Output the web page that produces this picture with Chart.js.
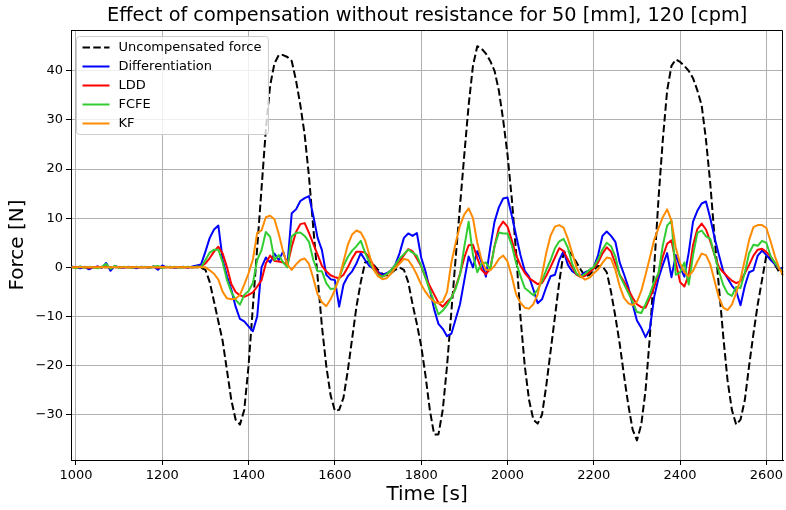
<!DOCTYPE html>
<html>
<head>
<meta charset="utf-8">
<script src="https://cdn.jsdelivr.net/npm/chart.js@4.4.1/dist/chart.umd.min.js"></script>
<style>
  body { margin: 0; background: #fff; }
  canvas { display: block; }
</style>
</head>
<body>
<canvas id="grafico-fuerza" width="786" height="510"></canvas>
<script>
// Tiempos de muestreo [s]
const tiempos = [
  990, 1000, 1010, 1020, 1030, 1040, 1050, 1060, 1070, 1080,
  1090, 1100, 1110, 1120, 1130, 1140, 1150, 1160, 1170, 1180,
  1190, 1200, 1210, 1220, 1230, 1240, 1250, 1260, 1270, 1280,
  1290, 1300, 1310, 1320, 1330, 1340, 1350, 1360, 1370, 1380,
  1390, 1400, 1410, 1420, 1430, 1440, 1450, 1460, 1470, 1480,
  1490, 1500, 1510, 1520, 1530, 1540, 1550, 1560, 1570, 1580,
  1590, 1600, 1610, 1620, 1630, 1640, 1650, 1660, 1670, 1680,
  1690, 1700, 1710, 1720, 1730, 1740, 1750, 1760, 1770, 1780,
  1790, 1800, 1810, 1820, 1830, 1840, 1850, 1860, 1870, 1880,
  1890, 1900, 1910, 1920, 1930, 1940, 1950, 1960, 1970, 1980,
  1990, 2000, 2010, 2020, 2030, 2040, 2050, 2060, 2070, 2080,
  2090, 2100, 2110, 2120, 2130, 2140, 2150, 2160, 2170, 2180,
  2190, 2200, 2210, 2220, 2230, 2240, 2250, 2260, 2270, 2280,
  2290, 2300, 2310, 2320, 2330, 2340, 2350, 2360, 2370, 2380,
  2390, 2400, 2410, 2420, 2430, 2440, 2450, 2460, 2470, 2480,
  2490, 2500, 2510, 2520, 2530, 2540, 2550, 2560, 2570, 2580,
  2590, 2600, 2610, 2620, 2630, 2640
];

// Fuerza sin compensar [N]
const fuerzaSinCompensar = [
  0, 0, 0, 0, 0, 0, 0, 0, 0, 0,
  0, 0, 0, 0, 0, 0, 0, 0, 0, 0,
  0, 0, 0, 0, 0, 0, 0, 0, 0, 0,
  -0.1, -0.5, -3, -7, -11, -15, -21, -27, -31, -32,
  -29, -20, -8, 4, 16, 28, 37, 41.5, 43.2, 43.2,
  42.8, 42, 38, 33, 27, 18.5, 8, -2, -12, -20,
  -26, -29.2, -29, -26.5, -21, -14.5, -8, -3, 1, 1.2,
  0.5, -0.5, -1.3, -1.6, -1.2, -0.5, 0, -0.5, -3, -7.5,
  -11.5, -16, -22, -29, -34, -34, -29, -20, -9, 2,
  12.5, 23, 33, 41, 45, 44.5, 43.5, 42, 40, 36,
  30, 23, 14, 3, -10, -20, -27, -31, -31.8, -30,
  -24, -17, -10, -3, 3, 3.5, 2.5, 1, -0.5, -1.8,
  -1.5, -0.5, 0.3, 0.2, -1, -5, -10, -15.5, -22, -28,
  -33, -35.2, -32, -25, -14, 0, 14, 26, 36, 41,
  42.3, 41.8, 41, 40, 38.5, 36, 33, 26, 17, 6,
  -4, -14, -23, -29, -32, -31, -27, -20, -13.5, -7.5,
  -2.5, 2.5, 2, 0.5, -1, -1.5
];

// Diferenciación [N]
const diferenciacion = [
  0.2, 0, -0.2, 0.1, -0.4, 0, 0.2, -0.1, 0.9, -0.7,
  0.3, 0, -0.1, 0.1, 0, -0.2, 0.1, 0, -0.1, 0.2,
  -0.5, 0.4, 0, 0.1, -0.1, 0, 0.1, -0.1, 0.2, 0.4,
  0.6, 3.2, 6, 7.7, 8.5, 1.5, -1.8, -4.5, -8, -10.5,
  -11, -12, -13, -10, 0, 2, 1, 2.8, 1.5, 3.2,
  0.5, 11, 11.8, 13.5, 14.1, 14.5, 10.5, 6, 3.5, -1.5,
  -2.4, -2.6, -8, -3.5, -1.8, -0.8, 0.8, 2.9, 1.5, 0.3,
  -0.3, -0.9, -1.5, -1.2, -0.6, 0.5, 2.9, 6, 6.9, 6.4,
  7, 2, -0.8, -4.5, -8.5, -11.5, -12.5, -14, -13.5, -10.5,
  -7.5, -2.6, 2.2, 0, 3.3, 1, -1.9, 4, 9.3, 12.2,
  14, 14.2, 10.5, 6.5, 2.5, -0.7, -1.9, -4.5, -7.3, -6.5,
  -4, -1.8, -1.5, 1.5, 3.3, 0.5, -0.8, -1.4, -1.6, -1,
  -0.6, 0, 2.5, 6.4, 7.3, 6.4, 5.2, 1, -1.4, -4,
  -7.5, -10.8, -12.3, -14.2, -12.5, -6, -2.2, 0.5, 2.9, -2,
  2.5, 0, -1.9, 3, 9.3, 11.5, 13, 13.4, 10, 6,
  2.5, -0.8, -2.2, -3.7, -4.8, -7.7, -3.8, -1, -0.6, 2.4,
  3.4, 2.5, 1.5, 0.6, -0.4, 0.1
];

// LDD [N]
const ldd = [
  0, 0, 0.1, 0, -0.1, 0, 0.1, 0, 0.2, -0.1,
  0.1, 0, 0, 0, 0, 0, 0, 0, 0, 0.1,
  -0.1, 0.1, 0, 0, 0, 0, 0, 0, 0, 0.1,
  0.2, 0.8, 1.9, 3.2, 4.2, 2.8, 0, -3.4, -5, -5.7,
  -6, -5.6, -5.1, -3.9, -2.6, 0.8, 2.4, 1.3, 1.2, 1,
  0.4, 4.2, 7.2, 8.8, 9, 7, 4.8, 2.6, 0.3, -0.8,
  -1.6, -2, -2.2, -1.5, 0, 1.8, 3.2, 3.2, 3, 2,
  0.3, -1.2, -1.9, -1.5, -0.6, 0.3, 1.2, 2.5, 3.7, 3.3,
  1.8, 0.2, -2, -3.8, -5.5, -7.2, -8, -7, -6.2, -4,
  -1.3, 2, 4.5, 4.6, 1.9, -0.5, -1.4, -0.3, 4.3, 8,
  9.3, 8.3, 5.5, 2.5, 0.4, -1.1, -2.2, -2.8, -3.4, -3.2,
  -1.7, 0.1, 2, 3.9, 3.3, 1.6, 0, -1.5, -2, -1.7,
  -1, -0.2, 1, 2.8, 4.1, 3.2, 0.8, -1.5, -2.9, -4.5,
  -6.2, -7.5, -8.1, -8.2, -6.2, -4, -1.2, 2.2, 4.8, 5.5,
  1, -3, -3.9, -1.5, 4.5, 7.8, 8.9, 7.7, 5.3, 2.5,
  0, -1, -1.9, -2.7, -3.2, -2.8, -1.2, 0.5, 2.4, 3.6,
  3.8, 3.1, 2.2, 0.9, -0.4, -1
];

// FCFE [N]
const fcfe = [
  0.1, -0.2, 0.2, -0.1, 0.1, 0, -0.2, 0.1, 0.7, -0.3,
  0.3, -0.1, 0.1, 0, -0.1, 0.1, 0, 0.1, -0.1, 0.2,
  0.3, -0.2, 0.1, 0, 0.1, -0.1, 0, 0.1, 0, 0.2,
  0, 1.5, 3, 3.6, 3.6, 1, -2.6, -5, -6.6, -7.6,
  -5.6, -4.8, -3.2, 1.5, 3.5, 7.2, 6.2, 1.5, 2.5, 1,
  0, 6.3, 7, 7.1, 6.4, 5.2, 1.5, -0.8, -0.8, -3.2,
  -4.4, -4.3, -2.2, 0.3, 2.1, 3.4, 4.3, 5.4, 3, 1,
  -0.4, -1.6, -1.9, -1.4, -0.6, 0.5, 1.8, 2.7, 3.6, 3,
  2.4, 0.3, -2.1, -4.7, -7, -9.6, -8.8, -7.7, -6.2, -4.3,
  -1.5, 4.2, 9.3, 2.5, -1, 0.8, 1, -0.5, 4.3, 7.1,
  6.9, 6.9, 4.5, 0.9, -1.7, -4.2, -4.9, -5.7, -4.5, -2.8,
  -0.5, 1.5, 3.9, 5.3, 5.8, 4, 0.7, -1.3, -1.9, -1.3,
  -0.5, 0.1, 1.6, 3.6, 5, 4.3, 2.2, -1.6, -3.4, -5.2,
  -7, -9.1, -9.3, -7.5, -5.5, -2.9, -1.2, 4.5, 8.5, 9.5,
  -1.5, -1, 1, -3.5, 2.5, 7, 7.5, 6.3, 5.8, 2.5,
  -0.8, -3.6, -5.3, -5.8, -4, -4.2, -1.1, 2.9, 4.6, 4.4,
  5.4, 5, 2.2, 0.9, -0.3, -1
];

// KF [N]
const kf = [
  0, 0, 0, 0, 0, 0, 0, 0, 0, 0,
  0, 0, 0, 0, 0, 0, 0, 0, 0, 0,
  0, 0, 0, 0, 0, 0, 0, 0, 0, 0,
  0, 0, -0.6, -1.3, -2.5, -5, -6.3, -6.5, -6.4, -5.6,
  -3.5, -1.2, 1.6, 7, 7.5, 10.2, 10.5, 9.8, 6.8, 3.2,
  0.5, -0.5, 0.6, 1.5, 1.8, 0.7, -2.2, -5.5, -7.1, -7.9,
  -6.5, -4.6, -2.1, 1.2, 4.6, 6.7, 7.5, 7.1, 5.5, 2.5,
  -0.5, -1.8, -2.4, -2.2, -1.3, -0.1, 0.8, 1.7, 1.5, 0.2,
  -1.5, -3.5, -5, -6.2, -7, -7.3, -7, -5, 1, 5,
  8.5, 10.8, 12, 10, 5, 1.5, -0.5, -0.6, 0.3, 1.7,
  2.4, 1.2, -1.8, -5.5, -7.2, -8.2, -8.4, -7.5, -5.5, -1.5,
  3, 6.5, 8.3, 8.6, 8.1, 5.8, 2.9, 0, -1.9, -2.5,
  -2.1, -1.2, -0.4, 0.9, 2, 1.8, -0.5, -3.8, -6.2, -7.3,
  -7.7, -7, -4.8, -1.5, 2, 5.6, 8, 10.2, 11.8, 9.5,
  4, 0.8, -1, -1.8, -0.7, 1.2, 2.8, 2.5, 0.6, -2.8,
  -6.2, -8.2, -8.7, -7.6, -5.2, -2.4, 1.5, 5.6, 8.2, 8.6,
  8.6, 8, 5.2, 2.2, -0.2, -1.8
];

// Marcas de los ejes
const marcasX = [1000, 1200, 1400, 1600, 1800, 2000, 2200, 2400, 2600];
const marcasY = [-30, -20, -10, 0, 10, 20, 30, 40];

const fuente = 'DejaVu Sans';

function serie(valores) {
  return valores.map((v, i) => ({ x: tiempos[i], y: v }));
}

// Marco superior/derecho y leyenda dentro del área del gráfico
const marcoYLeyenda = {
  id: 'marcoYLeyenda',
  afterDatasetsDraw(chart) {
    const ctx = chart.ctx;
    const a = chart.chartArea;
    ctx.save();
    ctx.strokeStyle = '#000';
    ctx.lineWidth = 1;
    ctx.beginPath();
    ctx.moveTo(Math.round(a.left), Math.round(a.top) + 0.5);
    ctx.lineTo(Math.round(a.right) - 0.5, Math.round(a.top) + 0.5);
    ctx.lineTo(Math.round(a.right) - 0.5, Math.round(a.bottom));
    ctx.stroke();

    const sets = chart.data.datasets;
    ctx.font = '13px "' + fuente + '"';
    const anchoTexto = Math.max(...sets.map(d => ctx.measureText(d.label).width));
    const x0 = a.left + 5.5, y0 = a.top + 6.5;
    const fila = 19;
    const ancho = 42 + anchoTexto + 7;
    const alto = 22 + (sets.length - 1) * fila;
    ctx.beginPath();
    ctx.roundRect(x0, y0, ancho, alto, 3);
    ctx.fillStyle = 'rgba(255,255,255,0.8)';
    ctx.fill();
    ctx.strokeStyle = '#cccccc';
    ctx.stroke();
    sets.forEach((d, i) => {
      const y = y0 + 11 + i * fila;
      ctx.beginPath();
      ctx.setLineDash(d.borderDash || []);
      ctx.strokeStyle = d.borderColor;
      ctx.lineWidth = d.borderWidth;
      ctx.moveTo(x0 + 6, y);
      ctx.lineTo(x0 + 33, y);
      ctx.stroke();
      ctx.setLineDash([]);
      ctx.fillStyle = '#000';
      ctx.textBaseline = 'middle';
      ctx.textAlign = 'left';
      ctx.fillText(d.label, x0 + 42, y);
    });
    ctx.restore();
  }
};

const ctx = document.getElementById('grafico-fuerza').getContext('2d');
const grafico = new Chart(ctx, {
  type: 'line',
  data: {
    datasets: [
      { label: 'Uncompensated force', data: serie(fuerzaSinCompensar), borderColor: '#000000', borderWidth: 2, borderDash: [7.5, 3.3], order: 5 },
      { label: 'Differentiation', data: serie(diferenciacion), borderColor: '#0000ff', borderWidth: 2, order: 4 },
      { label: 'LDD', data: serie(ldd), borderColor: '#ff0000', borderWidth: 2, order: 3 },
      { label: 'FCFE', data: serie(fcfe), borderColor: '#32cd32', borderWidth: 2, order: 2 },
      { label: 'KF', data: serie(kf), borderColor: '#ff8c00', borderWidth: 2, order: 1 }
    ]
  },
  options: {
    responsive: false,
    animation: false,
    layout: { padding: { left: 0, right: 1, top: 0, bottom: 0 } },
    elements: {
      point: { radius: 0 },
      line: { tension: 0, fill: false, borderJoinStyle: 'round' }
    },
    plugins: {
      legend: { display: false },
      tooltip: { enabled: false },
      title: {
        display: true,
        fullSize: false,
        text: 'Effect of compensation without resistance for 50 [mm], 120 [cpm]',
        color: '#000',
        font: { family: fuente, size: 19.3, weight: 'normal' },
        padding: { top: 4, bottom: 2.84 }
      }
    },
    scales: {
      x: {
        type: 'linear',
        min: 988.5,
        max: 2639,
        afterBuildTicks: s => { s.ticks = marcasX.map(v => ({ value: v })); },
        afterFit: s => { s.height = 50; },
        ticks: {
          color: '#000',
          font: { family: fuente, size: 13 },
          padding: 3,
          maxRotation: 0,
          callback: v => String(v)
        },
        grid: { color: '#b0b0b0', lineWidth: 1, tickLength: 5, tickColor: '#000' },
        border: { color: '#000', width: 1 },
        title: {
          display: true,
          text: 'Time [s]',
          color: '#000',
          font: { family: fuente, size: 20 },
          padding: { top: 0, bottom: 3 }
        }
      },
      y: {
        type: 'linear',
        min: -39.2,
        max: 48.3,
        afterBuildTicks: s => { s.ticks = marcasY.map(v => ({ value: v })); },
        afterFit: s => { s.width = 71; },
        ticks: {
          color: '#000',
          font: { family: fuente, size: 13 },
          padding: 3,
          callback: v => v < 0 ? '\u2212' + Math.abs(v) : String(v)
        },
        grid: { color: '#b0b0b0', lineWidth: 1, tickLength: 5, tickColor: '#000' },
        border: { color: '#000', width: 1 },
        title: {
          display: true,
          text: 'Force [N]',
          color: '#000',
          font: { family: fuente, size: 20 },
          padding: { top: 6, bottom: 0 }
        }
      }
    }
  },
  plugins: [marcoYLeyenda]
});
</script>
</body>
</html>
